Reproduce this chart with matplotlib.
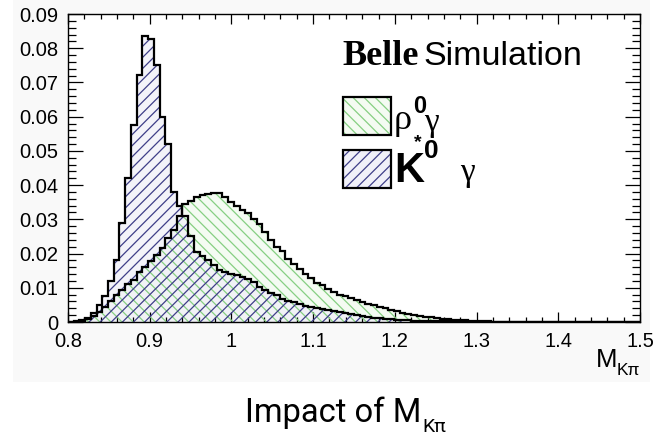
"""
Belle simulation: M(K pi) distribution for rho0 gamma vs K*0 gamma.
Output: out.png
"""

import numpy as np
import matplotlib.pyplot as plt
from matplotlib.patches import Rectangle
from matplotlib.ticker import MultipleLocator

# ── Data ─────────────────────────────────────────────────────────────────────
x_lo, x_hi, n_bins = 0.8, 1.5, 100
edges = np.linspace(x_lo, x_hi, n_bins + 1)

rho_gamma = [
    0.0, 0.0001, 0.0005, 0.0012, 0.0018, 0.0030, 0.0045, 0.0060, 0.0078, 0.0094,
    0.0112, 0.0124, 0.0145, 0.0162, 0.0178, 0.0196, 0.0215, 0.0245, 0.0270, 0.0310,
    0.0345, 0.0355, 0.0365, 0.0371, 0.0374, 0.0376, 0.0376, 0.0366, 0.0350, 0.0338,
    0.0328, 0.0318, 0.0300, 0.0285, 0.0262, 0.0240, 0.0220, 0.0208, 0.0185, 0.0170,
    0.0156, 0.0140, 0.0130, 0.0115, 0.0108, 0.0096, 0.0087, 0.0080, 0.0075, 0.0070,
    0.0064, 0.0059, 0.0054, 0.0050, 0.0045, 0.0040, 0.0035, 0.0031, 0.0027, 0.0022,
    0.0019, 0.0017, 0.0015, 0.0014, 0.0012, 0.0010, 0.0008, 0.0007, 0.0006, 0.0005,
    0.0004, 0.0003, 0.0002, 0.0002, 0.0001, 0.0001, 0.0001, 0.0001, 0.0001, 0.0001,
    0.0001, 0.0001, 0.0001, 0.0001, 0.0001, 0.0, 0.0, 0.0, 0.0, 0.0,
    0.0, 0.0, 0.0, 0.0, 0.0, 0.0, 0.0, 0.0, 0.0, 0.0,
]

kstar_gamma = [
    0.0001, 0.0002, 0.0004, 0.0010, 0.0025, 0.0050, 0.0075, 0.0120, 0.0180, 0.0290,
    0.0420, 0.0576, 0.0722, 0.0836, 0.0826, 0.0751, 0.0598, 0.0520, 0.0379, 0.0340,
    0.0310, 0.0250, 0.0205, 0.0192, 0.0180, 0.0166, 0.0152, 0.0147, 0.0141, 0.0136,
    0.0131, 0.0125, 0.0116, 0.0103, 0.0094, 0.0086, 0.0078, 0.0068, 0.0062, 0.0057,
    0.0052, 0.0048, 0.0044, 0.0040, 0.0037, 0.0034, 0.0031, 0.0028, 0.0025, 0.0023,
    0.0020, 0.0018, 0.0016, 0.0013, 0.0011, 0.0009, 0.0008, 0.0007, 0.0006, 0.0005,
    0.0004, 0.0004, 0.0003, 0.0003, 0.0002, 0.0002, 0.0002, 0.0001, 0.0001, 0.0001,
    0.0001, 0.0001, 0.0001, 0.0001, 0.0001, 0.0001, 0.0001, 0.0001, 0.0001, 0.0001,
    0.0, 0.0, 0.0, 0.0, 0.0, 0.0, 0.0, 0.0, 0.0, 0.0,
    0.0, 0.0, 0.0, 0.0, 0.0, 0.0, 0.0, 0.0, 0.0, 0.0,
]

xtick_vals   = [0.8, 0.9, 1.0, 1.1, 1.2, 1.3, 1.4, 1.5]
xtick_labels = ['0.8', '0.9', '1', '1.1', '1.2', '1.3', '1.4', '1.5']
ytick_vals   = [0, 0.01, 0.02, 0.03, 0.04, 0.05, 0.06, 0.07, 0.08, 0.09]
ytick_labels = ['0', '0.01', '0.02', '0.03', '0.04', '0.05', '0.06', '0.07', '0.08', '0.09']

# ── Style ────────────────────────────────────────────────────────────────────
GREEN_LINE = '#86cf82'
GREEN_FACE = '#f4fbf2'
BLUE_LINE  = '#3e3e88'
BLUE_FACE  = '#f0f0f8'
plt.rcParams['hatch.linewidth'] = 0.9

W, H = 665, 436


def fp(x, y):
    """pixel position (from top-left) -> figure fraction"""
    return x / W, 1 - y / H


fig = plt.figure(figsize=(W / 100, H / 100), dpi=100)
fig.patch.set_facecolor('white')
# faint grey panel behind the original plot image
fig.patches.append(Rectangle(fp(13, 382), (650 - 13) / W, 382 / H,
                             transform=fig.transFigure, facecolor='#f9f9f9',
                             edgecolor='none', zorder=-5))

ax = fig.add_axes([68 / W, 1 - 322 / H, (640 - 68) / W, (322 - 14) / H])
ax.set_facecolor('white')

# light fills
ax.stairs(rho_gamma, edges, fill=True, facecolor=GREEN_FACE, edgecolor='none', zorder=1)
ax.stairs(kstar_gamma, edges, fill=True, facecolor=BLUE_FACE, edgecolor='none',
          alpha=0.75, zorder=1.5)
# hatches
ax.stairs(rho_gamma, edges, fill=True, facecolor='none', edgecolor=GREEN_LINE,
          hatch='\\\\\\', linewidth=0, zorder=2)
ax.stairs(kstar_gamma, edges, fill=True, facecolor='none', edgecolor=BLUE_LINE,
          hatch='///', linewidth=0, zorder=2.5)
# outlines
ax.stairs(rho_gamma, edges, color='black', linewidth=1.6, baseline=0, zorder=3)
ax.stairs(kstar_gamma, edges, color='black', linewidth=1.6, baseline=0, zorder=3)

ax.set_xlim(x_lo, x_hi)
ax.set_ylim(0, 0.09)
ax.set_xticks(xtick_vals)
ax.set_xticklabels(xtick_labels, fontfamily='Liberation Sans', fontsize=14.5)
ax.set_yticks(ytick_vals)
ax.set_yticklabels(ytick_labels, fontfamily='Liberation Sans', fontsize=14.5)
ax.xaxis.set_minor_locator(MultipleLocator(0.02))
ax.yaxis.set_minor_locator(MultipleLocator(0.002))
ax.tick_params(which='both', direction='in', top=True, right=True, width=0.9)
ax.tick_params(axis='x', which='major', length=7, pad=7)
ax.tick_params(axis='x', which='minor', length=3.5)
ax.tick_params(axis='y', which='major', length=11, pad=7)
ax.tick_params(axis='y', which='minor', length=5.5)
for s in ax.spines.values():
    s.set_linewidth(1.0)

# ── Axis label M_{K pi} ─────────────────────────────────────────────────────
fig.text(*fp(596, 367), 'M', fontfamily='Liberation Sans', fontsize=18.5,
         ha='left', va='baseline')
fig.text(*fp(617, 375), 'K\u03c0', fontfamily='Liberation Sans', fontsize=12.5,
         ha='left', va='baseline')

# ── Belle Simulation + legend ───────────────────────────────────────────────
fig.text(*fp(342, 65), 'Belle', fontfamily='Liberation Serif', fontweight='bold',
         fontsize=26, ha='left', va='baseline')
fig.text(*fp(423, 65), 'Simulation', fontfamily='Liberation Sans',
         fontsize=24.5, ha='left', va='baseline')

for (y0, face, line, hatch) in [(97, GREEN_FACE, GREEN_LINE, '\\\\\\'),
                                (150, BLUE_FACE, BLUE_LINE, '///')]:
    fig.patches.append(Rectangle(fp(343, y0 + 38), 48 / W, 38 / H,
                                 transform=fig.transFigure, facecolor=face,
                                 edgecolor='none', zorder=3))
    fig.patches.append(Rectangle(fp(343, y0 + 38), 48 / W, 38 / H,
                                 transform=fig.transFigure, facecolor='none',
                                 edgecolor=line, hatch=hatch, linewidth=0, zorder=4))
    fig.patches.append(Rectangle(fp(343, y0 + 38), 48 / W, 38 / H,
                                 transform=fig.transFigure, facecolor='none',
                                 edgecolor='black', linewidth=1.6, zorder=5))

# rho0 gamma
fig.text(*fp(394, 129), '\u03c1', fontfamily='Liberation Serif', fontsize=26,
         ha='left', va='baseline')
fig.text(*fp(413, 113), '0', fontfamily='Liberation Sans', fontweight='bold',
         fontsize=17, ha='left', va='baseline')
fig.text(*fp(424, 131), '\u03b3', fontfamily='Liberation Serif', fontsize=24,
         ha='left', va='baseline')
# K*0 gamma
fig.text(*fp(394, 182), 'K', fontfamily='Liberation Sans', fontweight='bold',
         fontsize=30, ha='left', va='baseline')
fig.text(*fp(414, 147), '*', fontfamily='Liberation Sans', fontweight='bold',
         fontsize=14, ha='left', va='baseline')
fig.text(*fp(424, 158), '0', fontfamily='Liberation Sans', fontweight='bold',
         fontsize=19, ha='left', va='baseline')
fig.text(*fp(460, 181), '\u03b3', fontfamily='Liberation Serif', fontsize=24,
         ha='left', va='baseline')

# ── Caption ─────────────────────────────────────────────────────────────────
fig.text(*fp(245, 422), 'Impact of M', fontfamily='Roboto', fontsize=23.5,
         ha='left', va='baseline')
fig.text(*fp(422, 432), 'K\u03c0', fontfamily='Roboto', fontsize=14,
         ha='left', va='baseline')

fig.savefig('out.png', dpi=100, facecolor='white')
